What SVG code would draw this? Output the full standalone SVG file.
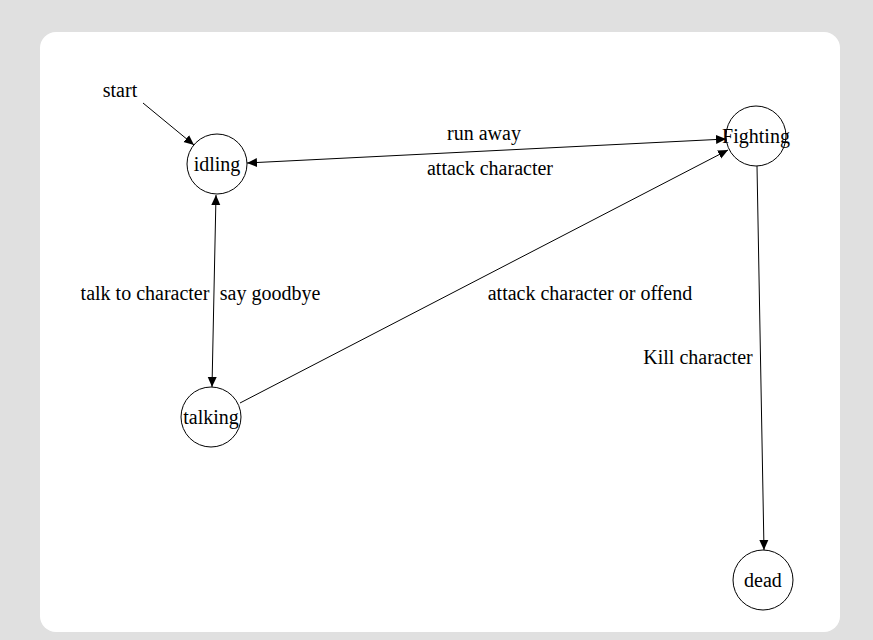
<svg xmlns="http://www.w3.org/2000/svg" width="873" height="640" viewBox="0 0 873 640">
<style>
text{font-family:"Liberation Serif","Times New Roman",serif;font-size:20px;fill:#000}
.n circle{fill:#fff;stroke:#000;stroke-width:1}
.n text{text-anchor:middle;dominant-baseline:central}
.e line{stroke:#000;stroke-width:1;fill:none}
.l{text-anchor:middle}
</style>
<defs>
<marker id="a" viewBox="0 0 10 10" refX="10" refY="5" markerWidth="10" markerHeight="10" markerUnits="userSpaceOnUse" orient="auto-start-reverse">
<path d="M0,0.5 L10,5 L0,9.5 z" fill="#000"/>
</marker>
</defs>
<rect width="873" height="640" fill="#e0e0e0"/>
<rect x="40" y="32" width="800" height="600" rx="16" fill="#fff"/>
<g class="e" id="connectors">
<line x1="143" y1="103" x2="194" y2="145" marker-end="url(#a)"/>
<line x1="247" y1="163" x2="726" y2="139" marker-start="url(#a)" marker-end="url(#a)"/>
<line x1="216" y1="195" x2="212" y2="387" marker-start="url(#a)" marker-end="url(#a)"/>
<line x1="240" y1="403" x2="728" y2="150" marker-end="url(#a)"/>
<line x1="757" y1="166" x2="764" y2="550" marker-end="url(#a)"/>
</g>
<g id="labels">
<text class="l" x="120" y="97">start</text>
<text class="l" x="484" y="140">run away</text>
<text class="l" x="490" y="175">attack character</text>
<text class="l" x="145" y="300">talk to character</text>
<text class="l" x="270" y="300">say goodbye</text>
<text class="l" x="590" y="300">attack character or offend</text>
<text class="l" x="698" y="364">Kill character</text>
</g>
<g class="n" id="idling"><circle cx="217" cy="164" r="30"/><text x="217" y="164">idling</text></g>
<g class="n" id="Fighting"><circle cx="756" cy="136" r="30"/><text x="756" y="136">Fighting</text></g>
<g class="n" id="talking"><circle cx="211" cy="417" r="30"/><text x="211" y="417">talking</text></g>
<g class="n" id="dead"><circle cx="763" cy="580" r="30"/><text x="763" y="580">dead</text></g>
</svg>
